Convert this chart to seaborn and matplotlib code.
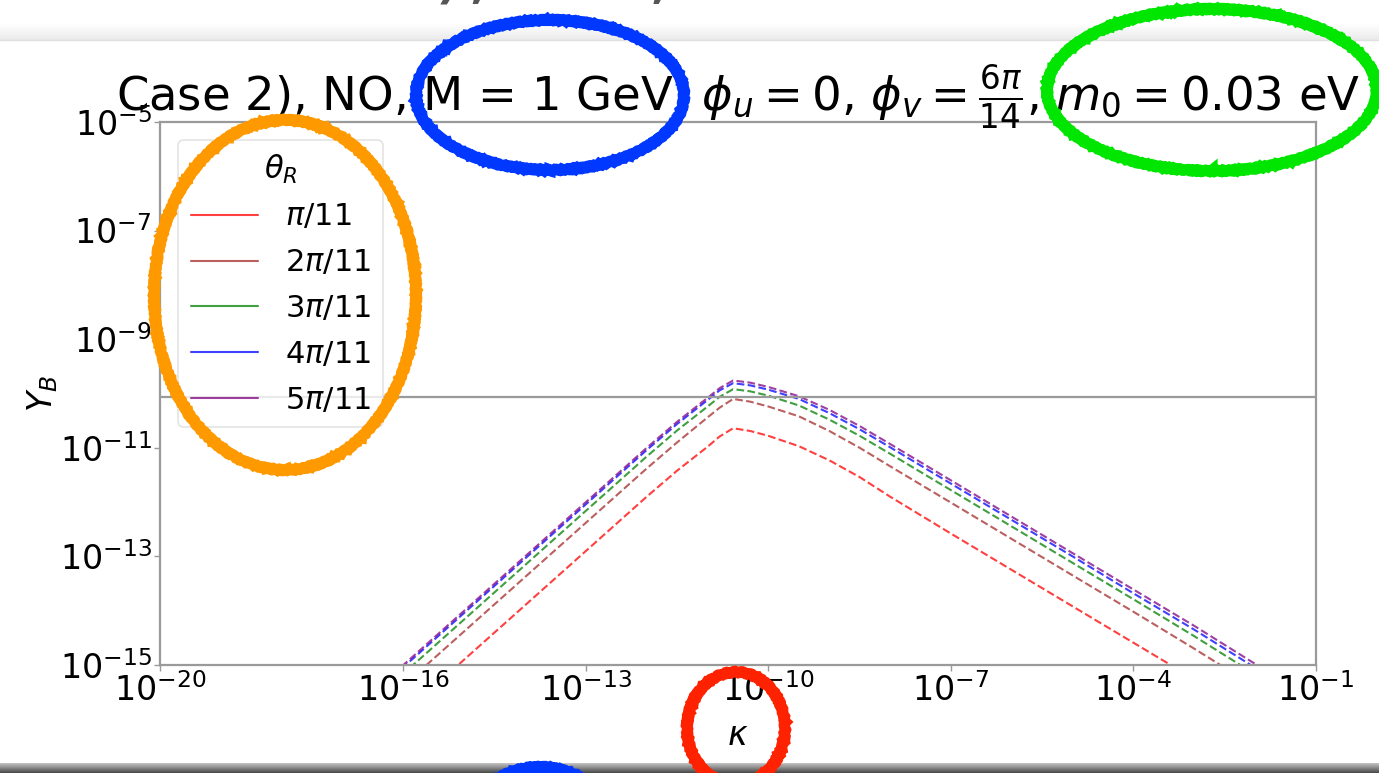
import numpy as np
import pandas as pd
import seaborn as sns
import matplotlib
matplotlib.use("Agg")
import matplotlib.pyplot as plt
from matplotlib.lines import Line2D
from matplotlib.patches import Ellipse

# ---------------- data ----------------
log_kappa = [-16.3, -16.0, -15.0, -14.0, -13.0, -12.0, -11.5, -11.0, -10.8, -10.58,
             -10.3, -10.0, -9.5, -9.0, -8.5, -8.0, -7.0, -6.0, -5.0, -4.0, -3.0, -2.0, -1.8]

theta_labels = [r"$\pi/11$", r"$2\pi/11$", r"$3\pi/11$", r"$4\pi/11$", r"$5\pi/11$"]
theta_colors = ["red", "brown", "green", "blue", "purple"]

logY_1 = [-16.20, -15.90, -14.90, -13.90, -12.90, -11.90, -11.42, -10.98, -10.79, -10.64,
          -10.69, -10.78, -10.97, -11.23, -11.54, -11.90, -12.58, -13.25, -13.92, -14.59, -15.26, -15.96, -16.09]
logY_2 = [-15.68, -15.38, -14.38, -13.38, -12.38, -11.38, -10.90, -10.44, -10.26, -10.10,
          -10.15, -10.24, -10.42, -10.69, -11.00, -11.34, -12.01, -12.68, -13.35, -14.02, -14.70, -15.40, -15.53]
logY_3 = [-15.46, -15.16, -14.16, -13.16, -12.16, -11.16, -10.68, -10.24, -10.06, -9.92,
          -9.96, -10.04, -10.22, -10.48, -10.78, -11.11, -11.78, -12.45, -13.12, -13.79, -14.47, -15.17, -15.30]
logY_4 = [-15.34, -15.04, -14.04, -13.04, -12.04, -11.04, -10.56, -10.12, -9.94, -9.81,
          -9.85, -9.93, -10.10, -10.36, -10.66, -10.99, -11.66, -12.33, -13.00, -13.68, -14.35, -15.05, -15.18]
logY_5 = [-15.30, -15.00, -14.00, -13.00, -12.00, -11.00, -10.52, -10.08, -9.90, -9.76,
          -9.80, -9.88, -10.05, -10.30, -10.60, -10.93, -11.60, -12.27, -12.94, -13.61, -14.28, -14.98, -15.11]

Y_B_obs = 8.7e-11

x_ticks = [1e-20, 1e-16, 1e-13, 1e-10, 1e-7, 1e-4, 1e-1]
y_ticks = [1e-15, 1e-13, 1e-11, 1e-9, 1e-7, 1e-5]

title_text = (r"Case 2), NO, M = 1 GeV, $\phi_u = 0$, $\phi_v = \frac{6\pi}{14}$, "
              r"$m_0 = 0.03$ eV")

# ---------------- build table ----------------
series = [logY_1, logY_2, logY_3, logY_4, logY_5]
rows = []
for lab, ys in zip(theta_labels, series):
    for lk, ly in zip(log_kappa, ys):
        rows.append({"kappa": 10.0 ** lk, "YB": 10.0 ** ly, "theta": lab})
df = pd.DataFrame(rows)

# ---------------- figure ----------------
sns.set_style("white")
plt.rcParams["font.family"] = ["DejaVu Sans"]
plt.rcParams["mathtext.fontset"] = "dejavusans"
plt.rcParams["text.color"] = "black"
plt.rcParams["axes.labelcolor"] = "black"

W, H = 1379, 773
fig = plt.figure(figsize=(W / 100, H / 100), dpi=100)
fig.patch.set_facecolor("white")

def fx(px):
    return px / W

def fy(py):
    return 1 - py / H

ax = fig.add_axes([fx(160), fy(665), fx(1316) - fx(160), fy(122) - fy(665)])
ax.set_xscale("log")
ax.set_yscale("log")

pal = dict(zip(theta_labels, theta_colors))
sns.lineplot(data=df, x="kappa", y="YB", hue="theta", hue_order=theta_labels,
             palette=pal, ax=ax, legend=False, linestyle="--", linewidth=1.5,
             alpha=0.75, sort=False, estimator=None)

ax.axhline(Y_B_obs, color="#9a9a9a", linewidth=1.6)

ax.set_xlim(1e-20, 1e-1)
ax.set_ylim(1e-15, 1e-5)
ax.set_xticks(x_ticks)
ax.set_yticks(y_ticks)
ax.xaxis.set_minor_locator(matplotlib.ticker.NullLocator())
ax.yaxis.set_minor_locator(matplotlib.ticker.NullLocator())
ax.tick_params(axis="both", which="major", labelsize=24, length=4, width=1,
               color="#9a9a9a", labelcolor="black", direction="out", pad=2,
               bottom=True, left=True)
for s in ax.spines.values():
    s.set_color("#9a9a9a")
    s.set_linewidth(1.6)

ax.set_xlabel(r"$\kappa$", fontsize=24, labelpad=8, color="black")
ax.set_ylabel(r"$Y_B$", fontsize=24, labelpad=0, color="black")
ax.set_title(title_text, fontsize=33.5, pad=8, color="black")

handles = [Line2D([0], [0], color=c, lw=1.5, alpha=0.75) for c in theta_colors]
leg = ax.legend(handles, theta_labels, title=r"$\theta_R$", loc="upper left",
                fontsize=22, title_fontsize=22, frameon=True, fancybox=True,
                handlelength=2.2, handletextpad=0.9, labelspacing=0.55,
                borderaxespad=0.6, borderpad=0.4)
leg.get_frame().set_edgecolor("#dddddd")
leg.get_frame().set_linewidth(1.2)
for t in leg.get_texts():
    t.set_color("black")
leg.get_title().set_color("black")

# ---------------- screenshot surroundings ----------------
# top strip with cut-off text and shadow
top = fig.add_axes([0, fy(40), 1, fy(0) - fy(40)], zorder=-1)
grad = np.linspace(0, 1, 40).reshape(-1, 1)
shade = np.where(grad < 0.6, 1.0, 1.0 - (grad - 0.6) * 0.2)
top.imshow(np.dstack([shade, shade, shade]), aspect="auto", extent=[0, 1, 0, 1])
top.set_axis_off()
fig.text(fx(150), fy(-30), "Case 2), NO, M", fontsize=60, color="#555555",
         va="center", ha="left")
fig.add_artist(Line2D([0, 1], [fy(40), fy(40)], transform=fig.transFigure,
                      color="#e0e0e0", lw=1))

# bottom dark bar
bot = fig.add_axes([0, 0, 1, fy(763)], zorder=-1)
g2 = np.linspace(0, 1, 10).reshape(-1, 1)
s2 = 0.75 - 0.45 * g2
bot.imshow(np.dstack([s2, s2, s2]), aspect="auto", extent=[0, 1, 0, 1])
bot.set_axis_off()

# hand-drawn annotation ellipses
def ell(cx, cy, w, h, color, angle=0):
    e = Ellipse((fx(cx), fy(cy)), w / W, h / H, angle=angle, fill=False,
                edgecolor=color, linewidth=8, transform=fig.transFigure,
                zorder=10)
    e.set_sketch_params(scale=0.8, length=6, randomness=2)
    fig.add_artist(e)

ell(285, 295, 262, 350, "#ff9900")
ell(550, 95, 268, 150, "#0038ff")
ell(1212, 90, 330, 162, "#00e600")
ell(736, 728, 98, 112, "#ff2200")
ell(540, 835, 150, 136, "#0038ff")

fig.savefig("out.png", dpi=100)
